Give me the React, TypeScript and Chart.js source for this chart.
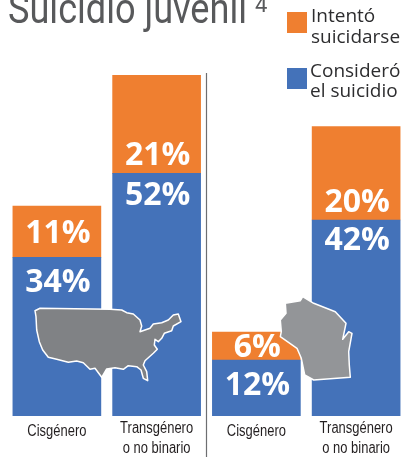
import React, { useEffect, useRef } from "react";
import { Chart, registerables } from "chart.js";

Chart.register(...registerables);

const categories: (string | string[])[] = ["Cisgénero", ["Transgénero", "o no binario"], "Cisgénero", ["Transgénero", "o no binario"]];
const considered = [34, 52, 12, 42];
const attempted = [11, 21, 6, 20];
const titleText = "Suicidio juvenil";
const titleRef = "4";
const attemptedLegend = ["Intentó", "suicidarse"];
const consideredLegend = ["Consideró", "el suicidio"];

const ORANGE = "#EF7F30";
const BLUE = "#4472B9";
const LABEL_FONT = "bold 32px 'Open Sans', sans-serif";
const TICK_FONT = "16px 'Liberation Sans', sans-serif";
const BLUE_LABEL_NUDGE = [26, 23, 26, 21];

const usPath = "M40,308.3 L110,309.3 121.7,310 126.7,312.7 133.3,314 140,320 141.7,326 140,331.7 150,328.3 153.3,324 161.7,322.7 168.3,320 173.3,315 178.3,314 181,321.7 173.3,326 171.7,330.7 164.3,333.3 161.7,338.3 158.3,341.7 155,339.3 154.3,345 157.3,349.3 153.3,353.3 145,360.7 143.3,365 146.7,371.7 147.7,380.7 143.3,378.3 141,370 136.7,366.7 128.3,365.7 123.3,369.3 115,367.7 106.7,369 101.7,377.3 95,368.3 90,369.3 83.3,362.7 76.7,361 68.3,362.3 56.7,359.3 48.3,357.3 42.7,350 39.3,341.7 36.7,330 36,316.7 35,310.7 Z";
const wiPath = "M302.7,296.7 L300.3,300.7 285.3,303.3 286,313.3 280.3,320 281.3,331.7 280.3,336.7 297,348.3 301.3,358.3 304.7,375 313.7,380 350.3,377.3 349.3,365 348.7,351.7 352,333.3 348.7,331.7 342.7,339.3 346,323.3 335.3,311.7 313.7,303.3 Z";

const overlayPlugin = {
  id: "overlay",
  afterDatasetsDraw(chart: any) {
    const { ctx } = chart;
    const blue = chart.getDatasetMeta(0).data;
    const orange = chart.getDatasetMeta(1).data;
    const xs = chart.scales.x;
    const bottom = chart.chartArea.bottom;
    ctx.save();
    ctx.font = LABEL_FONT;
    ctx.fillStyle = "#fff";
    ctx.textAlign = "center";
    ctx.textBaseline = "middle";
    blue.forEach((el: any, i: number) => {
      ctx.fillText(`${considered[i]}%`, el.x + 1, el.y + BLUE_LABEL_NUDGE[i]);
    });
    orange.forEach((el: any, i: number) => {
      const h = el.base - el.y;
      ctx.fillText(`${attempted[i]}%`, el.x + 1, h > 60 ? el.base - 17 : el.y + h / 2 + 2);
    });
    ctx.font = TICK_FONT;
    ctx.fillStyle = "#231f20";
    categories.forEach((c, i) => {
      const lines = Array.isArray(c) ? c : [c];
      const cx = xs.getPixelForValue(i);
      lines.forEach((t, j) => {
        const y = lines.length === 1 ? bottom + 16 : bottom + 13 + j * 20;
        ctx.save();
        ctx.translate(cx, y);
        ctx.scale(0.81, 1);
        ctx.fillText(t, 0, 0);
        ctx.restore();
      });
    });
    const divX = (xs.getPixelForValue(1) + xs.getPixelForValue(2)) / 2;
    ctx.strokeStyle = "#6d6e71";
    ctx.lineWidth = 1.2;
    ctx.beginPath();
    ctx.moveTo(divX, 73);
    ctx.lineTo(divX, 457);
    ctx.stroke();
    ctx.restore();
  },
};

export default function App() {
  const ref = useRef<HTMLCanvasElement>(null);
  useEffect(() => {
    document.body.style.margin = "0";
    const chart = new Chart(ref.current!, {
      type: "bar",
      data: {
        labels: categories as any,
        datasets: [
          { label: consideredLegend.join(" "), data: considered, backgroundColor: BLUE, barThickness: 88, stack: "a" },
          { label: attemptedLegend.join(" "), data: attempted, backgroundColor: ORANGE, barThickness: 88, stack: "a" },
        ],
      },
      options: {
        animation: false,
        responsive: false,
        devicePixelRatio: 1,
        layout: { padding: { left: 7, top: 66, right: 0, bottom: 35 } },
        plugins: { legend: { display: false }, title: { display: false }, tooltip: { enabled: false } },
        scales: {
          x: {
            stacked: true,
            grid: { display: false },
            border: { display: false },
            ticks: { display: false },
          },
          y: { stacked: true, min: 0, max: 75, display: false },
        },
      },
      plugins: [overlayPlugin],
    });
    return () => chart.destroy();
  }, []);

  const legendText: React.CSSProperties = {
    position: "absolute",
    fontFamily: "'Open Sans', sans-serif",
    fontSize: 19,
    color: "#2d2d2f",
    whiteSpace: "nowrap",
  };
  return (
    <div style={{ position: "relative", width: 401, height: 459, overflow: "hidden", background: "#fff" }}>
      <canvas ref={ref} width={406} height={459} style={{ position: "absolute", left: 0, top: 0, width: 406, height: 459 }} />
      <svg width={401} height={459} style={{ position: "absolute", left: 0, top: 0 }}>
        <path d={usPath} fill="#808285" stroke="#fff" strokeWidth={1.5} strokeLinejoin="round" />
        <path d={wiPath} fill="#939598" stroke="#fff" strokeWidth={1.5} strokeLinejoin="round" />
      </svg>
      <div style={{ position: "absolute", left: 8, top: -19, fontFamily: "Roboto, sans-serif", fontWeight: 400, fontSize: 42, lineHeight: "56px", color: "#58595b", whiteSpace: "nowrap", transform: "scaleX(0.86)", transformOrigin: "0 0" }}>
        {titleText}
      </div>
      <div style={{ position: "absolute", left: 255, top: -7, fontFamily: "Roboto, sans-serif", fontWeight: 400, fontSize: 22, lineHeight: "24px", color: "#58595b" }}>{titleRef}</div>
      <div style={{ position: "absolute", left: 287, top: 12, width: 20, height: 21, background: ORANGE }} />
      <div style={{ ...legendText, lineHeight: "21px", left: 311, top: 5 }}>{attemptedLegend[0]}<br />{attemptedLegend[1]}</div>
      <div style={{ position: "absolute", left: 287, top: 68, width: 20, height: 21, background: BLUE }} />
      <div style={{ ...legendText, lineHeight: "20px", left: 310, top: 60 }}>{consideredLegend[0]}<br />{consideredLegend[1]}</div>
    </div>
  );
}
